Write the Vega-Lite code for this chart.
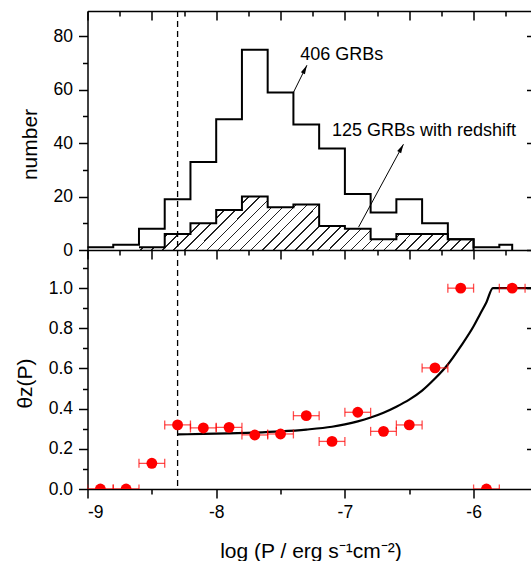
{
  "$schema": "https://vega.github.io/schema/vega-lite/v6.json",
  "padding": {"left": 14.5, "top": 10, "right": 0, "bottom": 0},
  "bounds": "flush",
  "spacing": 0,
  "config": {
    "font": "Liberation Sans",
    "view": {"stroke": null},
    "axis": {"grid": false, "domainColor": "#000", "domainWidth": 1.5, "tickColor": "#000", "tickWidth": 1.5, "labelColor": "#000", "labelFontSize": 17.5, "labelFont": "Liberation Sans", "titleFont": "Liberation Sans", "titleFontSize": 21, "titleFontWeight": "normal", "titleColor": "#000", "labelPadding": 5}
  },
  "datasets": {
    "h406": [{"x":-9,"n":1},{"x":-8.8,"n":2},{"x":-8.6,"n":8},{"x":-8.4,"n":19},{"x":-8.2,"n":33},{"x":-8.0,"n":49},{"x":-7.8,"n":75},{"x":-7.6,"n":59},{"x":-7.4,"n":47},{"x":-7.2,"n":38},{"x":-7.0,"n":21},{"x":-6.8,"n":14},{"x":-6.6,"n":19},{"x":-6.4,"n":10},{"x":-6.2,"n":4},{"x":-6.0,"n":1},{"x":-5.8,"n":2},{"x":-5.7,"n":0}],
    "hz": [{"x":-8.6,"n":1},{"x":-8.4,"n":6},{"x":-8.2,"n":10},{"x":-8.0,"n":15},{"x":-7.8,"n":20},{"x":-7.6,"n":16},{"x":-7.4,"n":17},{"x":-7.2,"n":9},{"x":-7.0,"n":8},{"x":-6.8,"n":4},{"x":-6.6,"n":6},{"x":-6.4,"n":6},{"x":-6.2,"n":4},{"x":-6.0,"n":0}],
    "cut": [{"x":-8.3}],
    "arrows": [{"id":1,"x0":-7.4,"y0":59,"x1":-7.295,"y1":69.2},{"id":2,"x0":-6.894,"y0":8.55,"x1":-6.545,"y1":39.6}],
    "labels": [{"x":-7.347,"y":72.9,"text":"406 GRBs"},{"x":-7.101,"y":44.5,"text":"125 GRBs with redshift"}],
    "pts": [{"x":-8.9,"lo":-9.0,"hi":-8.8,"t":0},{"x":-8.7,"lo":-8.8,"hi":-8.6,"t":0},{"x":-8.5,"lo":-8.6,"hi":-8.4,"t":0.128},{"x":-8.3,"lo":-8.4,"hi":-8.2,"t":0.319},{"x":-8.1,"lo":-8.2,"hi":-8.0,"t":0.304},{"x":-7.9,"lo":-8.0,"hi":-7.8,"t":0.307},{"x":-7.7,"lo":-7.8,"hi":-7.6,"t":0.269},{"x":-7.5,"lo":-7.6,"hi":-7.4,"t":0.274},{"x":-7.3,"lo":-7.4,"hi":-7.2,"t":0.365},{"x":-7.1,"lo":-7.2,"hi":-7.0,"t":0.237},{"x":-6.9,"lo":-7.0,"hi":-6.8,"t":0.382},{"x":-6.7,"lo":-6.8,"hi":-6.6,"t":0.287},{"x":-6.5,"lo":-6.6,"hi":-6.4,"t":0.319},{"x":-6.3,"lo":-6.4,"hi":-6.2,"t":0.603},{"x":-6.1,"lo":-6.2,"hi":-6.0,"t":1.0},{"x":-5.9,"lo":-6.0,"hi":-5.8,"t":0},{"x":-5.7,"lo":-5.8,"hi":-5.6,"t":1.0}],
    "curve": [{"x":-8.3,"t":0.272},{"x":-8.1,"t":0.274},{"x":-7.9,"t":0.277},{"x":-7.7,"t":0.281},{"x":-7.5,"t":0.287},{"x":-7.3,"t":0.296},{"x":-7.1,"t":0.31},{"x":-7.0,"t":0.322},{"x":-6.9,"t":0.337},{"x":-6.8,"t":0.356},{"x":-6.7,"t":0.38},{"x":-6.6,"t":0.41},{"x":-6.5,"t":0.445},{"x":-6.4,"t":0.49},{"x":-6.3,"t":0.55},{"x":-6.2,"t":0.62},{"x":-6.1,"t":0.71},{"x":-6.0,"t":0.81},{"x":-5.95,"t":0.87},{"x":-5.9,"t":0.93},{"x":-5.85,"t":1.0},{"x":-5.55,"t":1.0}]
  },
  "vconcat": [
    {
      "width": 444, "height": 239,
      "layer": [
        {"data": {"name": "hz"},
         "mark": {"type": "area", "interpolate": "step-after", "fill": {"gradient": "linear", "x1": 0, "y1": 0, "x2": 1.1305, "y2": 0.1798, "stops": [
{"offset":0,"color":"#fff"},{"offset":0.0246,"color":"#fff"},{"offset":0.0246,"color":"#222"},{"offset":0.02857,"color":"#222"},
{"offset":0.02857,"color":"#fff"},{"offset":0.05317,"color":"#fff"},{"offset":0.05317,"color":"#222"},{"offset":0.05714,"color":"#222"},
{"offset":0.05714,"color":"#fff"},{"offset":0.08174,"color":"#fff"},{"offset":0.08174,"color":"#222"},{"offset":0.08571,"color":"#222"},
{"offset":0.08571,"color":"#fff"},{"offset":0.11031,"color":"#fff"},{"offset":0.11031,"color":"#222"},{"offset":0.11429,"color":"#222"},
{"offset":0.11429,"color":"#fff"},{"offset":0.13889,"color":"#fff"},{"offset":0.13889,"color":"#222"},{"offset":0.14286,"color":"#222"},
{"offset":0.14286,"color":"#fff"},{"offset":0.16746,"color":"#fff"},{"offset":0.16746,"color":"#222"},{"offset":0.17143,"color":"#222"},
{"offset":0.17143,"color":"#fff"},{"offset":0.19603,"color":"#fff"},{"offset":0.19603,"color":"#222"},{"offset":0.2,"color":"#222"},
{"offset":0.2,"color":"#fff"},{"offset":0.2246,"color":"#fff"},{"offset":0.2246,"color":"#222"},{"offset":0.22857,"color":"#222"},
{"offset":0.22857,"color":"#fff"},{"offset":0.25317,"color":"#fff"},{"offset":0.25317,"color":"#222"},{"offset":0.25714,"color":"#222"},
{"offset":0.25714,"color":"#fff"},{"offset":0.28174,"color":"#fff"},{"offset":0.28174,"color":"#222"},{"offset":0.28571,"color":"#222"},
{"offset":0.28571,"color":"#fff"},{"offset":0.31031,"color":"#fff"},{"offset":0.31031,"color":"#222"},{"offset":0.31429,"color":"#222"},
{"offset":0.31429,"color":"#fff"},{"offset":0.33889,"color":"#fff"},{"offset":0.33889,"color":"#222"},{"offset":0.34286,"color":"#222"},
{"offset":0.34286,"color":"#fff"},{"offset":0.36746,"color":"#fff"},{"offset":0.36746,"color":"#222"},{"offset":0.37143,"color":"#222"},
{"offset":0.37143,"color":"#fff"},{"offset":0.39603,"color":"#fff"},{"offset":0.39603,"color":"#222"},{"offset":0.4,"color":"#222"},
{"offset":0.4,"color":"#fff"},{"offset":0.4246,"color":"#fff"},{"offset":0.4246,"color":"#222"},{"offset":0.42857,"color":"#222"},
{"offset":0.42857,"color":"#fff"},{"offset":0.45317,"color":"#fff"},{"offset":0.45317,"color":"#222"},{"offset":0.45714,"color":"#222"},
{"offset":0.45714,"color":"#fff"},{"offset":0.48174,"color":"#fff"},{"offset":0.48174,"color":"#222"},{"offset":0.48571,"color":"#222"},
{"offset":0.48571,"color":"#fff"},{"offset":0.51031,"color":"#fff"},{"offset":0.51031,"color":"#222"},{"offset":0.51429,"color":"#222"},
{"offset":0.51429,"color":"#fff"},{"offset":0.53889,"color":"#fff"},{"offset":0.53889,"color":"#222"},{"offset":0.54286,"color":"#222"},
{"offset":0.54286,"color":"#fff"},{"offset":0.56746,"color":"#fff"},{"offset":0.56746,"color":"#222"},{"offset":0.57143,"color":"#222"},
{"offset":0.57143,"color":"#fff"},{"offset":0.59603,"color":"#fff"},{"offset":0.59603,"color":"#222"},{"offset":0.6,"color":"#222"},
{"offset":0.6,"color":"#fff"},{"offset":0.6246,"color":"#fff"},{"offset":0.6246,"color":"#222"},{"offset":0.62857,"color":"#222"},
{"offset":0.62857,"color":"#fff"},{"offset":0.65317,"color":"#fff"},{"offset":0.65317,"color":"#222"},{"offset":0.65714,"color":"#222"},
{"offset":0.65714,"color":"#fff"},{"offset":0.68174,"color":"#fff"},{"offset":0.68174,"color":"#222"},{"offset":0.68571,"color":"#222"},
{"offset":0.68571,"color":"#fff"},{"offset":0.71031,"color":"#fff"},{"offset":0.71031,"color":"#222"},{"offset":0.71429,"color":"#222"},
{"offset":0.71429,"color":"#fff"},{"offset":0.73889,"color":"#fff"},{"offset":0.73889,"color":"#222"},{"offset":0.74286,"color":"#222"},
{"offset":0.74286,"color":"#fff"},{"offset":0.76746,"color":"#fff"},{"offset":0.76746,"color":"#222"},{"offset":0.77143,"color":"#222"},
{"offset":0.77143,"color":"#fff"},{"offset":0.79603,"color":"#fff"},{"offset":0.79603,"color":"#222"},{"offset":0.8,"color":"#222"},
{"offset":0.8,"color":"#fff"},{"offset":0.8246,"color":"#fff"},{"offset":0.8246,"color":"#222"},{"offset":0.82857,"color":"#222"},
{"offset":0.82857,"color":"#fff"},{"offset":0.85317,"color":"#fff"},{"offset":0.85317,"color":"#222"},{"offset":0.85714,"color":"#222"},
{"offset":0.85714,"color":"#fff"},{"offset":0.88174,"color":"#fff"},{"offset":0.88174,"color":"#222"},{"offset":0.88571,"color":"#222"},
{"offset":0.88571,"color":"#fff"},{"offset":0.91031,"color":"#fff"},{"offset":0.91031,"color":"#222"},{"offset":0.91429,"color":"#222"},
{"offset":0.91429,"color":"#fff"},{"offset":0.93889,"color":"#fff"},{"offset":0.93889,"color":"#222"},{"offset":0.94286,"color":"#222"},
{"offset":0.94286,"color":"#fff"},{"offset":0.96746,"color":"#fff"},{"offset":0.96746,"color":"#222"},{"offset":0.97143,"color":"#222"},
{"offset":0.97143,"color":"#fff"},{"offset":0.99603,"color":"#fff"},{"offset":0.99603,"color":"#222"},{"offset":1,"color":"#222"}
]}},
         "encoding": {
           "x": {"field": "x", "type": "quantitative", "scale": {"domain": [-9, -5.55], "nice": false}, "axis": null},
           "y": {"field": "n", "type": "quantitative", "scale": {"domain": [0, 89.5], "nice": false}, "axis": {"orient": "right", "values": [0, 20, 40, 60, 80], "tickSize": -5, "labels": false, "domain": false, "title": null}}
         }},
        {"data": {"name": "hz"},
         "mark": {"type": "line", "interpolate": "step-after", "color": "#000", "strokeWidth": 2},
         "encoding": {
           "x": {"field": "x", "type": "quantitative", "scale": {"domain": [-9, -5.55], "nice": false}, "axis": {"orient": "top", "values": [-8.75, -8.25, -7.75, -7.25, -6.75, -6.25, -5.75], "tickSize": -5, "labels": false, "domain": false, "title": null}},
           "y": {"field": "n", "type": "quantitative", "scale": {"domain": [0, 89.5], "nice": false}, "axis": {"orient": "left", "values": [10, 30, 50, 70], "tickSize": 5, "labels": false, "domain": false, "title": null}}
         }},
        {"data": {"name": "h406"},
         "mark": {"type": "line", "interpolate": "step-after", "color": "#000", "strokeWidth": 2},
         "encoding": {
           "x": {"field": "x", "type": "quantitative", "scale": {"domain": [-9, -5.55], "nice": false}, "axis": {"orient": "top", "values": [-9, -8.5, -8, -7.5, -7, -6.5, -6], "tickSize": -9, "labels": false, "title": null}},
           "y": {"field": "n", "type": "quantitative", "scale": {"domain": [0, 89.5], "nice": false}, "axis": {"orient": "left", "values": [0, 20, 40, 60, 80], "tickSize": 9, "labelPadding": 6, "title": "number", "titleX": -50.6, "titleY": 133, "titleBaseline": "alphabetic"}}
         }},
        {"data": {"name": "cut"},
         "mark": {"type": "rule", "strokeDash": [6, 4], "strokeWidth": 1.3, "color": "#000"},
         "encoding": {"x": {"field": "x", "type": "quantitative", "scale": {"domain": [-9, -5.55], "nice": false}, "axis": null}}},
        {"data": {"name": "arrows"},
         "mark": {"type": "rule", "strokeWidth": 1, "color": "#000"},
         "encoding": {
           "x": {"field": "x0", "type": "quantitative", "scale": {"domain": [-9, -5.55], "nice": false}, "axis": null},
           "y": {"field": "y0", "type": "quantitative", "scale": {"domain": [0, 89.5], "nice": false}, "axis": null},
           "x2": {"field": "x1"}, "y2": {"field": "y1"}
         }},
        {"data": {"name": "arrows"},
         "transform": [{"filter": "datum.id == 1"}],
         "mark": {"type": "point", "shape": "M0,0L-0.45,1.8L0.45,1.8Z", "filled": true, "color": "#000", "opacity": 1, "size": 100, "angle": 26.6},
         "encoding": {
           "x": {"field": "x1", "type": "quantitative", "scale": {"domain": [-9, -5.55], "nice": false}, "axis": null},
           "y": {"field": "y1", "type": "quantitative", "scale": {"domain": [0, 89.5], "nice": false}, "axis": null}
         }},
        {"data": {"name": "arrows"},
         "transform": [{"filter": "datum.id == 2"}],
         "mark": {"type": "point", "shape": "M0,0L-0.45,1.8L0.45,1.8Z", "filled": true, "color": "#000", "opacity": 1, "size": 100, "angle": 28.5},
         "encoding": {
           "x": {"field": "x1", "type": "quantitative", "scale": {"domain": [-9, -5.55], "nice": false}, "axis": null},
           "y": {"field": "y1", "type": "quantitative", "scale": {"domain": [0, 89.5], "nice": false}, "axis": null}
         }},
        {"data": {"name": "labels"},
         "mark": {"type": "text", "align": "left", "baseline": "middle", "fontSize": 18, "font": "Liberation Sans", "color": "#000"},
         "encoding": {
           "x": {"field": "x", "type": "quantitative", "scale": {"domain": [-9, -5.55], "nice": false}, "axis": null},
           "y": {"field": "y", "type": "quantitative", "scale": {"domain": [0, 89.5], "nice": false}, "axis": null},
           "text": {"field": "text"}
         }}
      ],
      "resolve": {"axis": {"x": "independent", "y": "independent"}}
    },
    {
      "width": 444, "height": 239,
      "layer": [
        {"data": {"name": "cut"},
         "mark": {"type": "rule", "strokeDash": [6, 4], "strokeWidth": 1.3, "color": "#000"},
         "encoding": {"x": {"field": "x", "type": "quantitative", "scale": {"domain": [-9, -5.55], "nice": false}, "axis": null}}},
        {"data": {"name": "curve"},
         "mark": {"type": "line", "interpolate": "monotone", "color": "#000", "strokeWidth": 2.2},
         "encoding": {
           "x": {"field": "x", "type": "quantitative", "scale": {"domain": [-9, -5.55], "nice": false}, "axis": {"orient": "bottom", "values": [-8.5, -7.5, -6.5], "tickSize": 5, "labels": false, "domain": false, "title": null}},
           "y": {"field": "t", "type": "quantitative", "scale": {"domain": [0, 1.19], "nice": false}, "axis": {"orient": "left", "values": [0.1, 0.3, 0.5, 0.7, 0.9, 1.1], "tickSize": 5, "labels": false, "domain": false, "title": null}}
         }},
        {"data": {"name": "pts"},
         "mark": {"type": "rule", "color": "#ff0000", "opacity": 0.7, "strokeWidth": 1.3, "clip": true},
         "encoding": {
           "x": {"field": "lo", "type": "quantitative", "scale": {"domain": [-9, -5.55], "nice": false}, "axis": {"orient": "top", "values": [-9, -8.5, -8, -7.5, -7, -6.5, -6], "tickSize": -9, "labels": false, "title": null}},
           "x2": {"field": "hi"},
           "y": {"field": "t", "type": "quantitative", "scale": {"domain": [0, 1.19], "nice": false}, "axis": {"orient": "right", "values": [0.2, 0.4, 0.6, 0.8, 1.0], "tickSize": -5, "labels": false, "domain": false, "title": null}}
         }},
        {"data": {"name": "pts"},
         "mark": {"type": "tick", "orient": "vertical", "size": 9, "thickness": 1.3, "color": "#ff0000", "opacity": 0.7, "clip": true},
         "encoding": {
           "x": {"field": "lo", "type": "quantitative", "scale": {"domain": [-9, -5.55], "nice": false}, "axis": {"orient": "top", "values": [-8.75, -8.25, -7.75, -7.25, -6.75, -6.25, -5.75], "tickSize": -5, "labels": false, "domain": false, "title": null}},
           "y": {"field": "t", "type": "quantitative", "scale": {"domain": [0, 1.19], "nice": false}, "axis": null}
         }},
        {"data": {"name": "pts"},
         "mark": {"type": "tick", "orient": "vertical", "size": 9, "thickness": 1.3, "color": "#ff0000", "opacity": 0.7, "clip": true},
         "encoding": {
           "x": {"field": "hi", "type": "quantitative", "scale": {"domain": [-9, -5.55], "nice": false}, "axis": null},
           "y": {"field": "t", "type": "quantitative", "scale": {"domain": [0, 1.19], "nice": false}, "axis": null}
         }},
        {"data": {"name": "pts"},
         "mark": {"type": "point", "shape": "circle", "filled": true, "color": "#ff0000", "opacity": 1, "size": 118, "clip": true},
         "encoding": {
           "x": {"field": "x", "type": "quantitative", "scale": {"domain": [-9, -5.55], "nice": false}, "axis": {"orient": "bottom", "values": [-9, -8, -7, -6], "labelExpr": "'' + datum.value", "tickSize": 9, "labelPadding": 5, "title": "log (P / erg s⁻¹cm⁻²)", "titleX": 223, "titleY": 68, "titleBaseline": "alphabetic"}},
           "y": {"field": "t", "type": "quantitative", "scale": {"domain": [0, 1.19], "nice": false}, "axis": {"orient": "left", "values": [0, 0.2, 0.4, 0.6, 0.8, 1.0], "format": ".1f", "tickSize": 9, "labelPadding": 6, "title": "θz(P)", "titleX": -56, "titleY": 133, "titleBaseline": "alphabetic"}}
         }}
      ],
      "resolve": {"axis": {"x": "independent", "y": "independent"}}
    }
  ]
}
